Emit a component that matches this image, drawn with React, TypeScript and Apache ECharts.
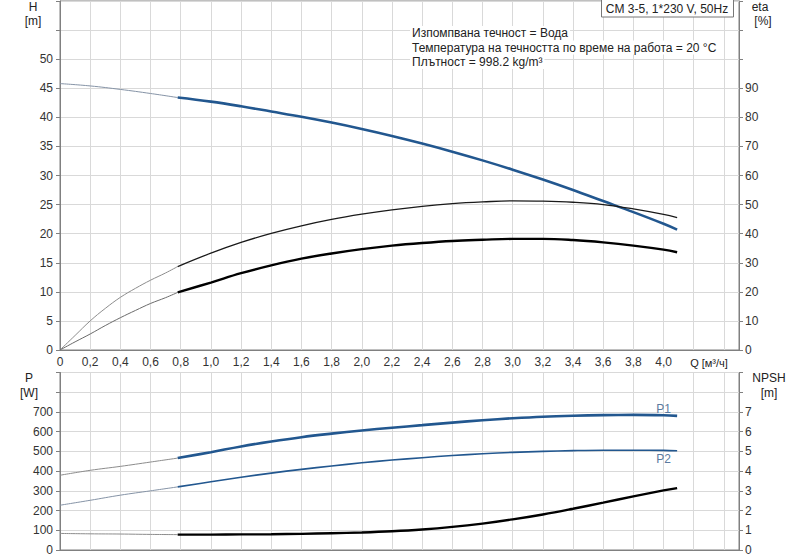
import React, { useEffect, useRef } from "react";
import * as echarts from "echarts";

const FONT = "'Liberation Sans', Arial, sans-serif";

// Flow values (m³/h)
const Q_THIN = [0, 0.2, 0.4, 0.6, 0.78];
const Q_ETA_THIN = [0, 0.1, 0.2, 0.3, 0.4, 0.5, 0.6, 0.7, 0.78];
const Q_MAIN = [0.78, 1.0, 1.2, 1.4, 1.6, 1.8, 2.0, 2.2, 2.4, 2.6, 2.8, 3.0, 3.2, 3.4, 3.6, 3.8, 4.0, 4.09];

// Head H (m)
const H_THIN = [45.8, 45.4, 44.8, 44.1, 43.4];
const H_MAIN = [43.4, 42.7, 41.9, 41.0, 40.1, 39.1, 38.0, 36.8, 35.5, 34.1, 32.6, 31.0, 29.3, 27.5, 25.6, 23.7, 21.7, 20.7];

// Efficiency eta (%)
const ETA_PUMP_THIN = [0, 5.0, 10.0, 14.3, 18.1, 21.2, 24.0, 26.5, 28.7];
const ETA_PUMP_MAIN = [28.7, 33.3, 37.0, 40.1, 42.7, 44.9, 46.7, 48.2, 49.4, 50.3, 50.9, 51.3, 51.2, 50.8, 50.0, 48.5, 46.6, 45.5];
const ETA_TOTAL_THIN = [0, 2.8, 5.5, 8.4, 11.1, 13.6, 16.0, 18.0, 19.8];
const ETA_TOTAL_MAIN = [19.8, 23.2, 26.4, 29.1, 31.4, 33.2, 34.7, 35.9, 36.8, 37.5, 37.9, 38.2, 38.2, 37.8, 37.0, 35.9, 34.5, 33.6];

// Power P (W)
const P1_THIN = [379, 404, 424, 446, 466];
const P1_MAIN = [466, 496, 525, 550, 572, 590, 606, 620, 633, 646, 658, 668, 676, 681, 684, 685, 683, 680];
const P2_THIN = [227, 252, 278, 300, 320];
const P2_MAIN = [320, 346, 369, 390, 409, 426, 442, 456, 468, 479, 488, 495, 500, 504, 506, 506, 505, 503];

// NPSH (m)
const NPSH_THIN = [0.84, 0.82, 0.81, 0.79, 0.78];
const NPSH_MAIN = [0.78, 0.78, 0.79, 0.8, 0.82, 0.85, 0.89, 0.95, 1.04, 1.17, 1.34, 1.55, 1.8, 2.09, 2.4, 2.72, 3.02, 3.14];

const X_LABEL_MAX = 4.0;
const INFO_LINES = [
  "Изпомпвана течност = Вода",
  "Температура на течността по време на работа = 20 °C",
  "Плътност = 998.2 kg/m³",
];
const BOX_TEXT = "CM 3-5, 1*230 V, 50Hz";

const BLUE = "#22578f";
const THIN = "#8c8c8c";
const THIN_BLUE = "#8593a6";
const GRID = "#d9d9d9";
const AXIS = "#808080";

function zip(xs: number[], ys: number[]) {
  return xs.map((x, i) => [x, ys[i]]);
}

function line(name: string, xs: number[], ys: number[], xi: number, yi: number, color: string, width: number) {
  return {
    name,
    type: "line",
    xAxisIndex: xi,
    yAxisIndex: yi,
    data: zip(xs, ys),
    smooth: 0.4,
    symbol: "none",
    silent: true,
    lineStyle: { color, width },
  };
}

function labelled(xs: number[], ys: number[], atQ: number, text: string, position: string, distance: number) {
  return xs.map((x, i) => {
    if (Math.abs(x - atQ) < 1e-6) {
      return {
        value: [x, ys[i]],
        label: {
          show: true,
          formatter: text,
          position,
          distance,
          color: "#5a7aa0",
          fontSize: 12,
          fontFamily: FONT,
        },
      };
    }
    return [x, ys[i]];
  });
}

function labelledLine(name: string, xs: number[], ys: number[], color: string, width: number, text: string, position: string, distance: number) {
  return {
    ...line(name, xs, ys, 1, 2, color, width),
    symbol: "circle",
    symbolSize: 0,
    showSymbol: true,
    showAllSymbol: true,
    itemStyle: { color },
    data: labelled(xs, ys, 4.0, text, position, distance),
  };
}

function xAxis(gridIndex: number, showLabels: boolean) {
  return {
    gridIndex,
    type: "value",
    min: 0,
    max: 4.5,
    interval: 0.2,
    axisLine: { show: true, lineStyle: { color: AXIS } },
    axisTick: { show: false },
    axisLabel: {
      show: showLabels,
      color: "#333",
      fontSize: 12,
      fontFamily: FONT,
      margin: 6,
      formatter: (v: number) => (v > X_LABEL_MAX + 0.05 ? "" : v === 0 ? "0" : v.toFixed(1).replace(".", ",")),
    },
    splitLine: { show: true, lineStyle: { color: GRID, width: 1 } },
  };
}

function yAxis(gridIndex: number, position: string, max: number, interval: number, labelMax: number, split: boolean) {
  return {
    gridIndex,
    type: "value",
    position,
    min: 0,
    max,
    interval,
    axisLine: { show: true, lineStyle: { color: AXIS } },
    axisTick: { show: true, length: 4, lineStyle: { color: AXIS } },
    axisLabel: {
      color: "#333",
      fontSize: 12,
      fontFamily: FONT,
      margin: position === "left" ? 7 : 6,
      formatter: (v: number) => (v > labelMax + 1e-6 ? "" : String(v)),
    },
    splitLine: { show: split, lineStyle: { color: GRID, width: 1 } },
  };
}

function txt(x: number, y: number, text: string, align: string = "center", size = 12, bg?: string) {
  const style: any = {
    text,
    fill: "#222",
    font: `${size}px ${FONT}`,
    textAlign: align,
    textVerticalAlign: "middle",
  };
  if (bg) {
    style.backgroundColor = bg;
    style.padding = [1, 2];
  }
  return { type: "text", x, y, silent: true, z: 10, style };
}

export default function App() {
  const ref = useRef<HTMLDivElement>(null);

  useEffect(() => {
    const chart = echarts.init(ref.current!, null, { renderer: "svg" });
    const option: any = {
      animation: false,
      backgroundColor: "#fff",
      grid: [
        { left: 60, top: 1, width: 679, height: 349, show: true, borderColor: AXIS, borderWidth: 1, backgroundColor: "transparent" },
        { left: 60, top: 372.5, width: 679, height: 177.5, show: true, borderColor: AXIS, borderWidth: 1, backgroundColor: "transparent" },
      ],
      xAxis: [xAxis(0, true), xAxis(1, false)],
      yAxis: [
        yAxis(0, "left", 60, 5, 50, true),
        yAxis(0, "right", 120, 10, 90, false),
        yAxis(1, "left", 900, 100, 700, true),
        yAxis(1, "right", 9, 1, 7, false),
      ],
      series: [
        line("H thin", Q_THIN, H_THIN, 0, 0, THIN_BLUE, 1),
        line("H", Q_MAIN, H_MAIN, 0, 0, BLUE, 2.6),
        line("eta pump thin", Q_ETA_THIN, ETA_PUMP_THIN, 0, 1, THIN, 1),
        line("eta pump", Q_MAIN, ETA_PUMP_MAIN, 0, 1, "#1a1a1a", 1.3),
        line("eta total thin", Q_ETA_THIN, ETA_TOTAL_THIN, 0, 1, "#6a6a6a", 1),
        line("eta total", Q_MAIN, ETA_TOTAL_MAIN, 0, 1, "#000", 2.4),
        line("P1 thin", Q_THIN, P1_THIN, 1, 2, THIN, 1),
        labelledLine("P1", Q_MAIN, P1_MAIN, BLUE, 2.6, "P1", "top", 0),
        line("P2 thin", Q_THIN, P2_THIN, 1, 2, THIN_BLUE, 1),
        labelledLine("P2", Q_MAIN, P2_MAIN, BLUE, 1.6, "P2", "bottom", 3),
        line("NPSH thin", Q_THIN, NPSH_THIN, 1, 3, THIN, 1),
        line("NPSH", Q_MAIN, NPSH_MAIN, 1, 3, "#000", 2.4),
      ],
      graphic: [
        txt(33, 7, "H"),
        txt(33, 21, "[m]"),
        txt(29, 378, "P"),
        txt(29, 393, "[W]"),
        txt(760, 7, "eta"),
        txt(763, 21, "[%]"),
        txt(769, 378, "NPSH"),
        txt(769, 393, "[m]"),
        txt(709, 363, "Q [м³/ч]", "center", 11),
        {
          type: "rect",
          silent: true,
          z: 10,
          shape: { x: 601.5, y: -1, width: 132, height: 18 },
          style: { fill: "#fff", stroke: "#777", lineWidth: 1 },
        },
        txt(667, 9, BOX_TEXT),
        ...INFO_LINES.map((t, i) => txt(410, 33 + i * 14.5, t, "left", 12, "#fff")),
      ],
    };
    chart.setOption(option);
    return () => chart.dispose();
  }, []);

  return (
    <div
      ref={ref}
      style={{ position: "fixed", left: 0, top: 0, width: 800, height: 560, background: "#fff" }}
    />
  );
}
